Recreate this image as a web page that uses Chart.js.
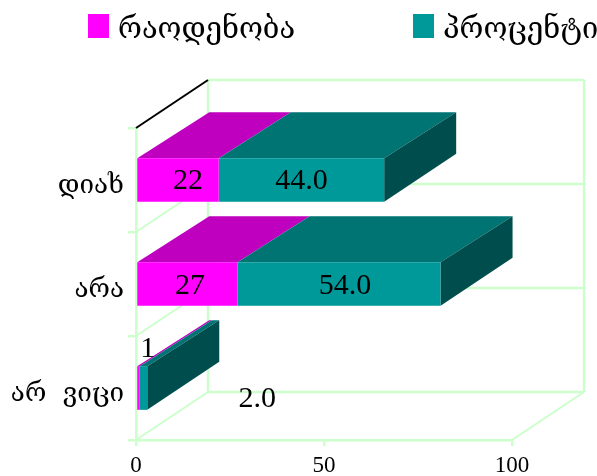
<!DOCTYPE html>
<html><head><meta charset="utf-8">
<style>html,body{margin:0;padding:0;background:#fff}#w{width:597px;height:476px;position:relative}</style>
<script src="https://cdn.jsdelivr.net/npm/chart.js@4"></script></head>
<body><div id="w"><canvas id="c" width="597" height="476"></canvas></div>
<script>
const categories = ['დიახ', 'არა', 'არ  ვიცი'];
const countValues = [22, 27, 1];
const percentValues = [44.0, 54.0, 2.0];
const xTickLabels = [0, 50, 100];
const seriesNames = ['რაოდენობა', 'პროცენტი'];

const GRID = '#ccffcc', SERIF = '"Liberation Serif","DejaVu Serif",serif';
const GEO = '"DejaVu Serif","DejaVu Sans",serif';
const DX = 72, DY = 48;

function line(ctx, pts, color, w) {
  ctx.beginPath(); ctx.strokeStyle = color; ctx.lineWidth = w;
  pts.forEach((p, i) => i ? ctx.lineTo(p[0], p[1]) : ctx.moveTo(p[0], p[1]));
  ctx.stroke();
}
function poly(ctx, pts, color) {
  ctx.beginPath(); ctx.fillStyle = color;
  pts.forEach((p, i) => i ? ctx.lineTo(p[0], p[1]) : ctx.moveTo(p[0], p[1]));
  ctx.closePath(); ctx.fill();
}
const scene = {
  id: 'scene',
  beforeDatasetsDraw(chart) {
    const { ctx, chartArea: a } = chart;
    ctx.save();
    const band = (a.bottom - a.top) / categories.length;
    for (let i = 0; i <= categories.length; i++) {
      const yy = a.top + i * band;
      line(ctx, [[a.left + DX, yy - DY], [a.right + DX, yy - DY]], GRID, 2.5);
      if (i > 0 && i < categories.length) line(ctx, [[a.left, yy], [a.left + DX, yy - DY]], GRID, 2);
    }
    line(ctx, [[a.left + DX, a.top - DY], [a.left + DX, a.bottom - DY]], GRID, 2.5);
    line(ctx, [[a.right + DX, a.top - DY], [a.right + DX, a.bottom - DY]], GRID, 2.5);
    line(ctx, [[a.right, a.bottom], [a.right + DX, a.bottom - DY]], GRID, 2);
    line(ctx, [[a.left, a.bottom], [a.left + DX, a.bottom - DY]], GRID, 2);
    line(ctx, [[a.left, a.top], [a.left + DX, a.top - DY]], '#000', 2);
    const m0 = chart.getDatasetMeta(0).data, m1 = chart.getDatasetMeta(1).data;
    categories.forEach((_, i) => {
      const b0 = m0[i], b1 = m1[i];
      const t = b0.y - b0.height / 2, bt = b0.y + b0.height / 2;
      const x0 = b0.base, x1 = b0.x, x2 = b1.x;
      poly(ctx, [[x0, t], [x1, t], [x1 + DX, t - 46], [x0 + DX, t - 46]], '#bf00bf');
      poly(ctx, [[x1, t], [x2, t], [x2 + DX, t - 46], [x1 + DX, t - 46]], '#007373');
      poly(ctx, [[x2, t], [x2 + DX, t - 46], [x2 + DX, bt - 48], [x2, bt]], '#004d4d');
    });
    ctx.restore();
  },
  afterDatasetsDraw(chart) {
    const { ctx } = chart;
    ctx.save();
    ctx.fillStyle = '#000'; ctx.font = '30px ' + SERIF;
    ctx.textAlign = 'center'; ctx.textBaseline = 'middle';
    const m0 = chart.getDatasetMeta(0).data, m1 = chart.getDatasetMeta(1).data;
    const nudge0 = [[10, 1], [2.5, 2], [8, -39]];
    const nudge1 = [[0, 1], [6, 2], [110, 11]];
    categories.forEach((_, i) => {
      const b0 = m0[i], b1 = m1[i];
      const small = i === categories.length - 1;
      const c0 = small ? b0.x : (b0.base + b0.x) / 2;
      const c1 = small ? b1.x : (b1.base + b1.x) / 2;
      ctx.fillText(String(countValues[i]), c0 + nudge0[i][0], b0.y + nudge0[i][1]);
      ctx.fillText(percentValues[i].toFixed(1), c1 + nudge1[i][0], b1.y + nudge1[i][1]);
    });
    [[88, '#ff00ff', seriesNames[0]], [413, '#009999', seriesNames[1]]].forEach(([lx, col, name]) => {
      ctx.fillStyle = col; ctx.fillRect(lx, 14, 21, 24);
      ctx.fillStyle = '#000'; ctx.font = '29px ' + GEO; ctx.textAlign = 'left'; ctx.textBaseline = 'alphabetic';
      ctx.fillText(name, lx + 30, 38);
    });
    ctx.restore();
  }
};

new Chart(document.getElementById('c'), {
  type: 'bar',
  data: {
    labels: categories,
    datasets: [
      { label: seriesNames[0], data: countValues, backgroundColor: '#ff00ff', stack: 's' },
      { label: seriesNames[1], data: percentValues, backgroundColor: '#009999', stack: 's' }
    ]
  },
  plugins: [scene],
  options: {
    indexAxis: 'y', responsive: false, animation: false,
    layout: { padding: { top: 128, right: 85, bottom: 0, left: 0 } },
    categoryPercentage: 0.42, barPercentage: 1,
    plugins: { legend: { display: false }, tooltip: { enabled: false } },
    scales: {
      x: {
        min: 0, max: 100, stacked: true,
        afterBuildTicks(s) { s.ticks = xTickLabels.map(v => ({ value: v })); },
        afterFit(s) { s.height = 36; },
        grid: { drawOnChartArea: false, color: GRID, lineWidth: 2.5, tickLength: 6 },
        border: { color: GRID, width: 2.5 },
        ticks: { font: { family: SERIF, size: 23 }, color: '#000', maxRotation: 0, padding: 6 }
      },
      y: {
        stacked: true,
        afterFit(s) { s.width = 136; },
        grid: { offset: true, drawOnChartArea: false, color: GRID, lineWidth: 2.5, tickLength: 8 },
        border: { color: GRID, width: 2.5 },
        ticks: { font: { family: GEO, size: 26 }, color: '#000', padding: 4, labelOffset: 6 }
      }
    }
  }
});
</script></body></html>
